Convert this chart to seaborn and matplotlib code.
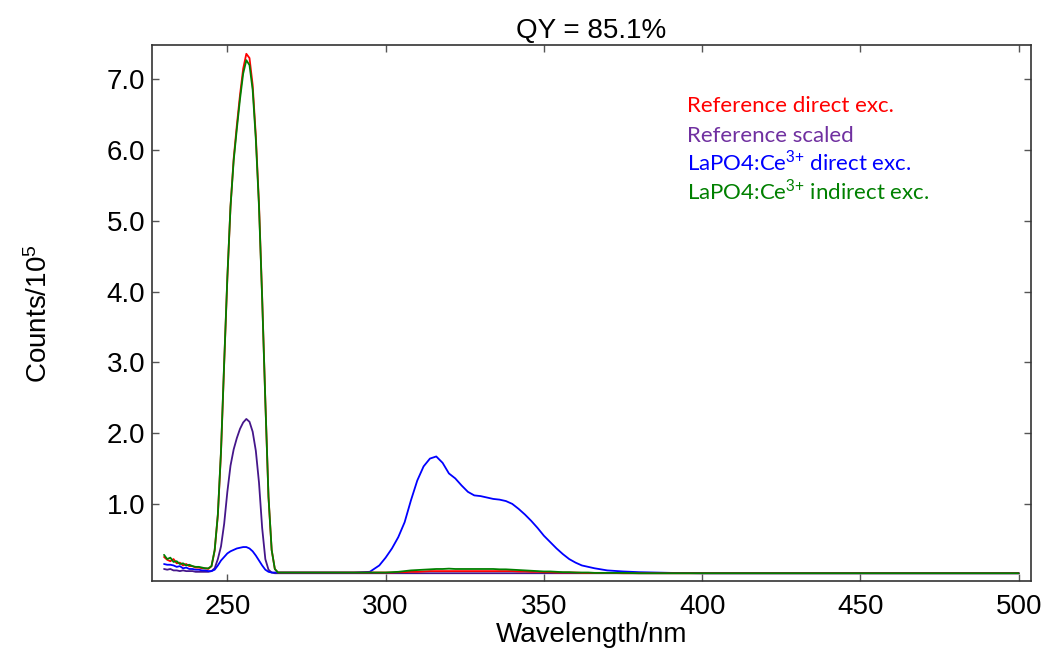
import matplotlib
matplotlib.use("Agg")
import matplotlib.pyplot as plt
import seaborn as sns

# wavelength grid (nm)
wl_start = [230, 231, 232, 233, 234, 235, 236, 237, 238, 239, 240, 241, 242, 243, 244]
wl_peak = [245, 246, 247, 248, 249, 250, 251, 252, 253, 254, 255, 256, 257, 258, 259,
           260, 261, 262, 263, 264, 265, 266]
wl_mid = [270, 280, 290, 295, 298]
wl_emis = [300, 302, 304, 306, 308, 310, 312, 314, 316, 318, 320, 322, 324, 326, 328,
           330, 332, 334, 336, 338, 340, 342, 344, 346, 348, 350, 352, 354, 356, 358,
           360, 362, 364, 366, 368, 370]
wl_tail = [375, 380, 385, 390, 400, 420, 450, 500]
wl = wl_start + wl_peak + wl_mid + wl_emis + wl_tail
wl_purple = wl_start + wl_peak + [270, 350, 500]

# counts / 1e5
ref_direct = ([0.25, 0.21, 0.19, 0.22, 0.16, 0.17, 0.13, 0.15, 0.12, 0.12, 0.10, 0.10, 0.09, 0.09, 0.08]
              + [0.12, 0.34, 0.84, 1.73, 2.98, 4.18, 5.20, 5.88, 6.35, 6.78, 7.15, 7.36, 7.30, 6.92,
                 6.20, 5.24, 3.92, 2.46, 1.10, 0.35, 0.08, 0.03]
              + [0.03, 0.03, 0.03, 0.03, 0.03]
              + [0.03, 0.03, 0.035, 0.035, 0.04, 0.04, 0.045, 0.05, 0.05, 0.05, 0.05, 0.05, 0.05,
                 0.05, 0.05, 0.05, 0.05, 0.05, 0.05, 0.05, 0.05, 0.045, 0.045, 0.04, 0.04, 0.035,
                 0.035, 0.03, 0.03, 0.03, 0.03, 0.025, 0.025, 0.025, 0.025, 0.025]
              + [0.02, 0.02, 0.02, 0.02, 0.02, 0.02, 0.02, 0.02])

sample_indirect = ([0.28, 0.22, 0.24, 0.18, 0.19, 0.15, 0.16, 0.13, 0.14, 0.12, 0.11, 0.11, 0.10, 0.09, 0.09]
                   + [0.12, 0.35, 0.85, 1.75, 3.00, 4.20, 5.20, 5.85, 6.30, 6.72, 7.08, 7.27, 7.20, 6.85,
                      6.15, 5.20, 3.90, 2.45, 1.10, 0.35, 0.08, 0.03]
                   + [0.03, 0.03, 0.03, 0.03, 0.03]
                   + [0.03, 0.035, 0.04, 0.05, 0.06, 0.065, 0.07, 0.075, 0.08, 0.08, 0.085, 0.08, 0.08,
                      0.08, 0.08, 0.08, 0.08, 0.08, 0.075, 0.075, 0.07, 0.065, 0.06, 0.055, 0.05, 0.045,
                      0.045, 0.04, 0.035, 0.035, 0.03, 0.03, 0.03, 0.025, 0.025, 0.025]
                   + [0.025, 0.02, 0.02, 0.02, 0.02, 0.02, 0.02, 0.02])

sample_direct = ([0.15, 0.14, 0.14, 0.13, 0.11, 0.12, 0.09, 0.10, 0.08, 0.08, 0.07, 0.07, 0.06, 0.06, 0.05]
                 + [0.05, 0.07, 0.13, 0.20, 0.25, 0.30, 0.33, 0.35, 0.37, 0.38, 0.39, 0.39, 0.37, 0.33,
                    0.27, 0.20, 0.13, 0.07, 0.04, 0.03, 0.03, 0.03]
                 + [0.03, 0.03, 0.03, 0.04, 0.13]
                 + [0.24, 0.37, 0.53, 0.74, 1.05, 1.33, 1.53, 1.64, 1.67, 1.58, 1.43, 1.36, 1.26, 1.17,
                    1.12, 1.11, 1.09, 1.07, 1.06, 1.04, 1.00, 0.93, 0.85, 0.76, 0.66, 0.55, 0.46, 0.37,
                    0.29, 0.22, 0.17, 0.13, 0.11, 0.09, 0.075, 0.06]
                 + [0.045, 0.035, 0.03, 0.025, 0.02, 0.02, 0.02, 0.02])

ref_scaled = ([0.08, 0.07, 0.08, 0.06, 0.06, 0.05, 0.06, 0.05, 0.05, 0.05, 0.04, 0.04, 0.04, 0.04, 0.04]
              + [0.05, 0.09, 0.22, 0.40, 0.72, 1.17, 1.54, 1.77, 1.93, 2.06, 2.15, 2.20, 2.16, 2.02,
                 1.75, 1.30, 0.66, 0.22, 0.07, 0.03, 0.02, 0.02]
              + [0.02, 0.02, 0.02])

legend_labels = ["Reference direct exc.", "Reference scaled",
                 "LaPO4:Ce$^{3{+}}$ direct exc.", "LaPO4:Ce$^{3{+}}$ indirect exc."]
legend_colors = ["#ff0000", "#7030a0", "#0000ff", "#008000"]

sns.set_style("ticks")
plt.rcParams['font.family'] = ['Liberation Sans', 'DejaVu Sans']
plt.rcParams['mathtext.fontset'] = 'custom'
plt.rcParams['mathtext.rm'] = 'Liberation Sans'
plt.rcParams['mathtext.it'] = 'Liberation Sans'
plt.rcParams['text.color'] = 'black'
plt.rcParams['axes.labelcolor'] = 'black'

fig = plt.figure(figsize=(10.44, 6.51), dpi=100)
ax = fig.add_axes([0.1459, 0.1075, 0.8414, 0.8229])

lw = 1.3
sns.lineplot(x=wl_purple, y=ref_scaled, color="#45168a", lw=lw, ax=ax)
sns.lineplot(x=wl, y=sample_direct, color="#0000ff", lw=lw, ax=ax)
sns.lineplot(x=wl, y=ref_direct, color="#ff0000", lw=lw, ax=ax)
sns.lineplot(x=wl, y=sample_indirect, color="#008000", lw=lw, ax=ax)

ax.set_xlim(226.3, 503.8)
ax.set_ylim(-0.09, 7.48)
ax.set_xticks([250, 300, 350, 400, 450, 500])
ax.set_yticks([1, 2, 3, 4, 5, 6, 7])
ax.set_yticklabels([f"{v:.1f}" for v in [1, 2, 3, 4, 5, 6, 7]])
ax.tick_params(direction='in', top=True, right=True, length=5, width=1,
               color='#555555', labelcolor='black', labelsize=20)
ax.tick_params(axis='x', pad=9)
ax.tick_params(axis='y', pad=5)
for s in ax.spines.values():
    s.set_color('#333333')
    s.set_linewidth(1.2)

ax.set_title("QY = 85.1%", fontsize=20, pad=5, color='black')
ax.set_xlabel("Wavelength/nm", fontsize=20)
ax.set_ylabel("Counts/10$^{5}$", fontsize=20)
ax.xaxis.set_label_coords(0.5, -0.076)
ax.yaxis.set_label_coords(-0.113, 0.5)

ys = [0.876, 0.820, 0.767, 0.713]
for lab, col, y in zip(legend_labels, legend_colors, ys):
    ax.text(0.609, y, lab, color=col, fontsize=16, family=['Lato', 'DejaVu Sans'],
            transform=ax.transAxes, va='baseline', ha='left')

fig.savefig("out.png", dpi=100)
